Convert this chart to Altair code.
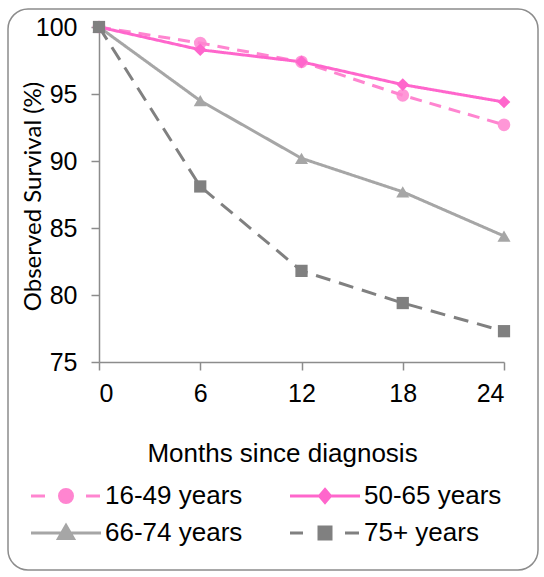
import altair as alt
import pandas as pd

months = [0, 6, 12, 18, 24]
series = ["16-49 years", "50-65 years", "66-74 years", "75+ years"]
surv_16_49 = [100, 98.8, 97.4, 94.9, 92.7]
surv_50_65 = [100, 98.3, 97.4, 95.7, 94.4]
surv_66_74 = [100, 94.5, 90.2, 87.7, 84.4]
surv_75 = [100, 88.1, 81.8, 79.4, 77.3]
y_ticks = [75, 80, 85, 90, 95, 100]

colors = ["#FF85D0", "#FF66CC", "#A6A6A6", "#808080"]
dashes = [[12, 8], [1, 0], [1, 0], [15, 9]]
marker_shapes = ["circle", "diamond", "triangle-up", "square"]
marker_sizes = [160, 160, 170, 150]
legend_paths = [
    "M-3.5,0L-2.1,0M2.0,0L3.4,0M0.65,0A0.65,0.65,0,1,1,-0.65,0A0.65,0.65,0,1,1,0.65,0Z",
    "M-3.5,0L3.5,0M0,-0.65L0.55,0L0,0.65L-0.55,0Z",
    "M-3.5,0L3.5,0M0,-0.75L0.75,0.55L-0.75,0.55Z",
    "M-3.5,0L-2.2,0M2.0,0L3.4,0M-0.6,-0.6L0.6,-0.6L0.6,0.6L-0.6,0.6Z",
]

rows = []
for name, vals in zip(series, [surv_16_49, surv_50_65, surv_66_74, surv_75]):
    for m, v in zip(months, vals):
        rows.append({"month": m, "survival": v, "series": name})
df = pd.DataFrame(rows)

FONT = "Liberation Sans"

x = alt.X(
    "month:Q",
    scale=alt.Scale(domain=[0, 24], nice=False, zero=False),
    axis=alt.Axis(
        values=months, title="Months since diagnosis", grid=False,
        domainColor="#8C8C8C", domainWidth=1.5, tickColor="#8C8C8C", tickWidth=1.5,
        tickSize=8, labelFont=FONT, labelFontSize=25, labelColor="#000000",
        labelPadding=11, titleFont=FONT, titleFontSize=26, titleFontWeight="normal",
        titleColor="#000000", titleX=183, titleY=99, titleAlign="center",
        titleBaseline="alphabetic", titleAnchor="middle",
    ),
)
y = alt.Y(
    "survival:Q",
    scale=alt.Scale(domain=[75, 100], nice=False, zero=False),
    axis=alt.Axis(
        values=y_ticks, title="Observed Survival (%)", grid=False,
        domainColor="#8C8C8C", domainWidth=1.5, tickColor="#8C8C8C", tickWidth=1.5,
        tickSize=8, labelFont=FONT, labelFontSize=25, labelColor="#000000",
        labelPadding=14, titleFont="Lato", titleFontSize=24, titleFontWeight="normal",
        titleColor="#000000", titleX=-66, titleY=169, titleAngle=270,
        titleAlign="center", titleBaseline="middle",
    ),
)

frame = alt.Chart(pd.DataFrame({"a": [0]})).mark_rect(
    filled=False, stroke="#8C8C8C", strokeWidth=1.5, cornerRadius=20
).encode(
    x=alt.value(-91), x2=alt.value(439), y=alt.value(-18), y2=alt.value(543)
)

line_layers = []
point_layers = []
for name, c, d, shp, sz in zip(series, colors, dashes, marker_shapes, marker_sizes):
    base = alt.Chart(df).transform_filter(alt.datum.series == name)
    line_layers.append(
        base.mark_line(color=c, strokeDash=d, strokeWidth=3).encode(x=x, y=y)
    )
    op = 0.85 if name == "16-49 years" else 1
    point_layers.append(
        base.mark_point(shape=shp, filled=True, size=sz, opacity=op, color=c).encode(x=x, y=y)
    )

leg = dict(orient="none", legendX=-69, legendY=456, columns=2, direction="horizontal", title=None)
legend_layer = alt.Chart(df).mark_point(
    filled=True, size=0, strokeWidth=3
).encode(
    x=x, y=y,
    fill=alt.Fill("series:N", scale=alt.Scale(domain=series, range=colors), legend=alt.Legend(**leg)),
    stroke=alt.Stroke("series:N", scale=alt.Scale(domain=series, range=colors), legend=alt.Legend(**leg)),
    shape=alt.Shape("series:N", scale=alt.Scale(domain=series, range=legend_paths), legend=alt.Legend(**leg)),
)

chart = alt.layer(frame, *line_layers, *point_layers, legend_layer).properties(
    width=405, height=335,
    autosize=alt.AutoSizeParams(type="none"),
    padding={"left": 99, "top": 27, "right": 40, "bottom": 215},
    background="#FFFFFF",
).configure_view(stroke=None).configure_legend(
    labelFont=FONT, labelFontSize=26, labelColor="#000000", labelLimit=400,
    symbolSize=400, symbolStrokeWidth=3, symbolOffset=23, labelOffset=26,
    columnPadding=41, rowPadding=10, padding=0, symbolOpacity=1,
)

chart.save("out.html", embed_options={"renderer": "svg", "actions": False})
